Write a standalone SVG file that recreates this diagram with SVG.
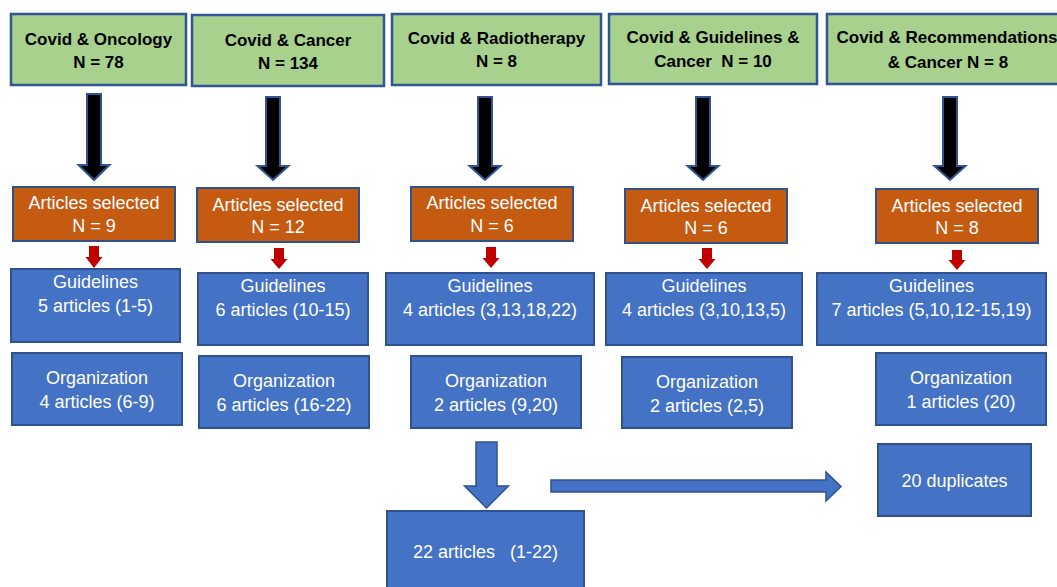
<svg xmlns="http://www.w3.org/2000/svg" width="1057" height="587" viewBox="0 0 1057 587">
  <style>
    .g{fill:#A9D18E;stroke:#2F5597;stroke-width:2.5}
    .o{fill:#C55A11;stroke:#2F528F;stroke-width:2}
    .b{fill:#4472C4;stroke:#2F528F;stroke-width:2}
    .ka{fill:#000;stroke:#2F5597;stroke-width:2}
    .ra{fill:#C00000;stroke:none}
    .ba{fill:#4472C4;stroke:#2F528F;stroke-width:1.5}
    .tb{font-family:"Liberation Sans",Arial,sans-serif;font-weight:bold;font-size:17px;fill:#000;text-anchor:middle}
    .tw{font-family:"Liberation Sans",Arial,sans-serif;font-size:18px;fill:#fff;text-anchor:middle;white-space:pre}
  </style>
  <rect width="1057" height="587" fill="#fff"/>

  <g id="connectors">
    <polygon class="ka" points="87,94 101,94 101,165 109.5,165 94,180 78.5,165 87,165"/>
    <polygon class="ka" points="266,97 280,97 280,166 288.5,166 273,180 257.5,166 266,166"/>
    <polygon class="ka" points="478,97 492,97 492,166 500.5,166 485,180 469.5,166 478,166"/>
    <polygon class="ka" points="696,97 710,97 710,166 718.5,166 703,180 687.5,166 696,166"/>
    <polygon class="ka" points="943,97 957,97 957,166 965.5,166 950,180 934.5,166 943,166"/>
    <polygon class="ra" points="89,246 99,246 99,257 102.5,257 94,268 85.5,257 89,257"/>
    <polygon class="ra" points="274,248 284,248 284,259 287.5,259 279,269 270.5,259 274,259"/>
    <polygon class="ra" points="486,247 496,247 496,258 499.5,258 491,268 482.5,258 486,258"/>
    <polygon class="ra" points="702,248 712,248 712,259 715.5,259 707,269 698.5,259 702,259"/>
    <polygon class="ra" points="952,250 962,250 962,260 965.5,260 957,270 948.5,260 952,260"/>
    <polygon class="ba" points="476,442 497,442 497,486 508.5,486 486.5,508 464.5,486 476,486"/>
    <polygon class="ba" points="551,480 826,480 826,472 841,486.5 826,501 826,492 551,492"/>
  </g>

  <g id="search1">
    <rect class="g" x="11" y="14" width="175" height="71"/>
    <text class="tb" x="98.5" y="45">Covid &amp; Oncology</text>
    <text class="tb" x="98.5" y="68">N = 78</text>
  </g>
  <g id="search2">
    <rect class="g" x="192" y="15" width="192" height="71"/>
    <text class="tb" x="288" y="46">Covid &amp; Cancer</text>
    <text class="tb" x="288" y="69">N = 134</text>
  </g>
  <g id="search3">
    <rect class="g" x="392" y="14" width="209" height="71"/>
    <text class="tb" x="496.5" y="44">Covid &amp; Radiotherapy</text>
    <text class="tb" x="496.5" y="67">N = 8</text>
  </g>
  <g id="search4">
    <rect class="g" x="609" y="14" width="208" height="70"/>
    <text class="tb" x="713" y="43">Covid &amp; Guidelines &amp;</text>
    <text class="tb" x="713" y="67" style="white-space:pre">Cancer  N = 10</text>
  </g>
  <g id="search5">
    <rect class="g" x="827" y="14" width="244" height="70"/>
    <text class="tb" x="947" y="43">Covid &amp; Recommendations</text>
    <text class="tb" x="948" y="68">&amp; Cancer N = 8</text>
  </g>

  <g id="selected1">
    <rect class="o" x="13" y="187" width="162" height="54"/>
    <text class="tw" x="94" y="209">Articles selected</text>
    <text class="tw" x="94" y="232">N = 9</text>
  </g>
  <g id="selected2">
    <rect class="o" x="197" y="188" width="162" height="54"/>
    <text class="tw" x="278" y="211">Articles selected</text>
    <text class="tw" x="278" y="233">N = 12</text>
  </g>
  <g id="selected3">
    <rect class="o" x="411" y="187" width="162" height="54"/>
    <text class="tw" x="492" y="209">Articles selected</text>
    <text class="tw" x="492" y="232">N = 6</text>
  </g>
  <g id="selected4">
    <rect class="o" x="625" y="189" width="162" height="54"/>
    <text class="tw" x="706" y="212">Articles selected</text>
    <text class="tw" x="706" y="234">N = 6</text>
  </g>
  <g id="selected5">
    <rect class="o" x="876" y="189" width="162" height="54"/>
    <text class="tw" x="957" y="212">Articles selected</text>
    <text class="tw" x="957" y="234">N = 8</text>
  </g>

  <g id="guidelines1">
    <rect class="b" x="11" y="269" width="169" height="73"/>
    <text class="tw" x="95.5" y="288">Guidelines</text>
    <text class="tw" x="95.5" y="312">5 articles (1-5)</text>
  </g>
  <g id="guidelines2">
    <rect class="b" x="198" y="273" width="170" height="72"/>
    <text class="tw" x="283" y="292">Guidelines</text>
    <text class="tw" x="283" y="316">6 articles (10-15)</text>
  </g>
  <g id="guidelines3">
    <rect class="b" x="386" y="273" width="208" height="72"/>
    <text class="tw" x="490" y="292">Guidelines</text>
    <text class="tw" x="490" y="316">4 articles (3,13,18,22)</text>
  </g>
  <g id="guidelines4">
    <rect class="b" x="606" y="273" width="196" height="72"/>
    <text class="tw" x="704" y="292">Guidelines</text>
    <text class="tw" x="704" y="316">4 articles (3,10,13,5)</text>
  </g>
  <g id="guidelines5">
    <rect class="b" x="817" y="273" width="229" height="72"/>
    <text class="tw" x="931.5" y="292">Guidelines</text>
    <text class="tw" x="931.5" y="316">7 articles (5,10,12-15,19)</text>
  </g>

  <g id="organization1">
    <rect class="b" x="12" y="353" width="170" height="72"/>
    <text class="tw" x="97" y="384">Organization</text>
    <text class="tw" x="97" y="408">4 articles (6-9)</text>
  </g>
  <g id="organization2">
    <rect class="b" x="199" y="356" width="170" height="72"/>
    <text class="tw" x="284" y="387">Organization</text>
    <text class="tw" x="284" y="411">6 articles (16-22)</text>
  </g>
  <g id="organization3">
    <rect class="b" x="411" y="356" width="170" height="72"/>
    <text class="tw" x="496" y="387">Organization</text>
    <text class="tw" x="496" y="411">2 articles (9,20)</text>
  </g>
  <g id="organization4">
    <rect class="b" x="622" y="357" width="170" height="71"/>
    <text class="tw" x="707" y="388">Organization</text>
    <text class="tw" x="707" y="412">2 articles (2,5)</text>
  </g>
  <g id="organization5">
    <rect class="b" x="876" y="353" width="170" height="72"/>
    <text class="tw" x="961" y="384">Organization</text>
    <text class="tw" x="961" y="408">1 articles (20)</text>
  </g>

  <g id="total">
    <rect class="b" x="387" y="511" width="197" height="90"/>
    <text class="tw" x="485.5" y="558">22 articles   (1-22)</text>
  </g>
  <g id="duplicates">
    <rect class="b" x="878" y="444" width="153" height="72"/>
    <text class="tw" x="954.5" y="487">20 duplicates</text>
  </g>
</svg>
